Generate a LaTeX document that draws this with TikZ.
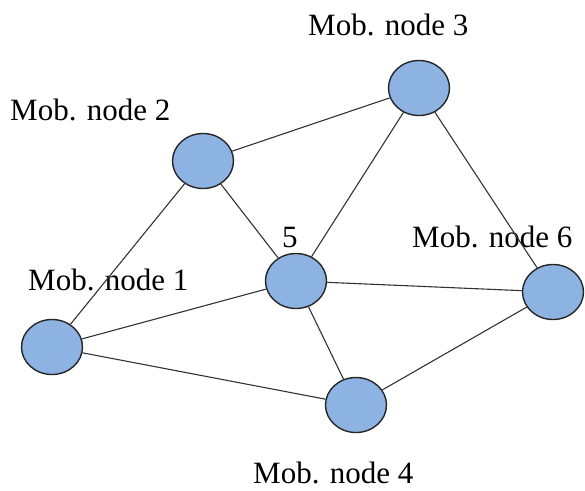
\documentclass[tikz,border=0pt]{standalone}
\usepackage{fontspec}
\setmainfont{Liberation Serif}
\usepackage{tikz}
\usetikzlibrary{shapes.geometric}
\definecolor{mobblue}{RGB}{141,179,226}

\begin{document}
\begin{tikzpicture}[
x=1pt, y=-1pt,
mob/.style={draw=black!85, ellipse, line width=1.4pt, fill=mobblue, minimum width=61pt, minimum height=55pt, inner sep=0pt},
lbl/.style={anchor=base west, inner sep=0pt, font=\fontsize{31}{36}\selectfont},
link/.style={draw=black!80, line width=1.1pt}
]
\useasboundingbox (0,0) rectangle (585,490);
\node[mob] (n1) at (52,347) {};
\node[mob] (n2) at (203,161) {};
\node[mob] (n3) at (419,88) {};
\node[mob] (n4) at (356,405) {};
\node[mob] (n5) at (296,281) {};
\node[mob] (n6) at (553,292) {};

\node[lbl] (l1) at (28,290) {Mob. node 1};
\node[lbl] (l2) at (10,120) {Mob. node 2};
\node[lbl] (l3) at (308,35) {Mob. node 3};
\node[lbl] (l4) at (253,483) {Mob. node 4};
\node[lbl] (l5) at (282,247) {5};
\node[lbl] (l6) at (412,247) {Mob. node 6};

\draw[link] (n2) -- (n3);
\draw[link] (n2) -- (n1);
\draw[link] (n2) -- (n5);
\draw[link] (n3) -- (n5);
\draw[link] (n3) -- (n6);
\draw[link] (n5) -- (n1);
\draw[link] (n5) -- (n6);
\draw[link] (n5) -- (n4);
\draw[link] (n1) -- (n4);
\draw[link] (n4) -- (n6);
\end{tikzpicture}
\end{document}
